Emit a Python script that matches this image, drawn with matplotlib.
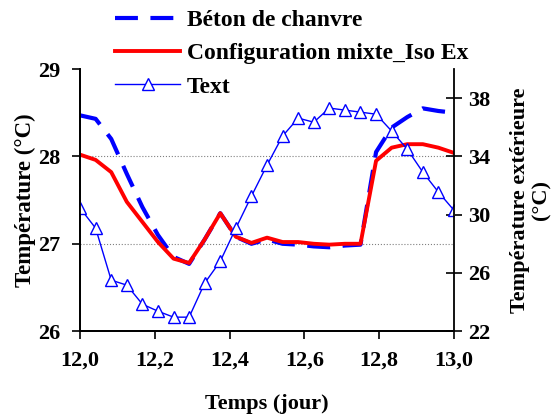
import numpy as np
import matplotlib.pyplot as plt

plt.rcParams['font.family'] = ['Liberation Serif', 'DejaVu Serif']
plt.rcParams['font.weight'] = 'bold'

# heures depuis le debut du jour 12
heures = list(range(25))

# temperature interieure - beton de chanvre (axe gauche)
beton = [28.47, 28.43, 28.20, 27.80, 27.42, 27.10, 26.85, 26.77, 27.05, 27.35,
         27.08, 27.00, 27.05, 27.00, 26.99, 26.97, 26.96, 26.98, 26.99, 28.05,
         28.33, 28.45, 28.55, 28.52, 28.50]

# temperature interieure - configuration mixte (axe gauche)
mixte = [28.02, 27.96, 27.82, 27.48, 27.25, 27.02, 26.83, 26.78, 27.05, 27.35,
         27.08, 27.01, 27.07, 27.02, 27.02, 27.00, 26.99, 27.00, 27.00, 27.95,
         28.10, 28.14, 28.14, 28.10, 28.04]

# temperature exterieure (axe droit)
text = [30.45, 29.07, 25.50, 25.16, 23.85, 23.37, 22.96, 22.96, 25.30, 26.80,
        29.07, 31.27, 33.40, 35.40, 36.63, 36.35, 37.32, 37.18, 37.04, 36.90,
        35.74, 34.50, 32.92, 31.55, 30.30]

xticks = [12.0, 12.2, 12.4, 12.6, 12.8, 13.0]
xticklabels = ['12,0', '12,2', '12,4', '12,6', '12,8', '13,0']
yticks_g = [26, 27, 28, 29]
yticks_d = [22, 26, 30, 34, 38]
lignes_grille = [27, 28]

temps = 12 + np.array(heures) / 24.0

fig = plt.figure(figsize=(5.56, 4.16), dpi=100)
ax = fig.add_axes([0.144, 0.204, 0.6725, 0.630])
ax2 = ax.twinx()

for g in lignes_grille:
    ax.axhline(g, color='gray', linestyle=':', lw=0.8, zorder=0)

l1, = ax.plot(temps, beton, color='#0000ff', lw=3, dashes=(5.5, 3), label='Béton de chanvre')
l2, = ax.plot(temps, mixte, color='#ff0000', lw=2.8, label='Configuration mixte_Iso Ex')
l3, = ax2.plot(temps, text, color='#0000ff', lw=1, marker='^', markersize=8,
               markerfacecolor='white', markeredgecolor='#0000ff', markeredgewidth=1,
               label='Text')

ax.set_xlim(12, 13)
ax.set_ylim(26, 29)
ax2.set_ylim(22, 40)
ax.set_xticks(xticks)
ax.set_xticklabels(xticklabels)
ax.set_yticks(yticks_g)
ax2.set_yticks(yticks_d)

ax.tick_params(axis='both', direction='out', length=6, width=1.2, labelsize=16)
ax.tick_params(axis='x', pad=8)
ax.tick_params(axis='y', pad=8)
ax2.tick_params(axis='y', direction='inout', length=12, width=1.2, labelsize=16, pad=4)

for a in (ax, ax2):
    a.spines['top'].set_visible(False)
    for s in ('left', 'right', 'bottom'):
        a.spines[s].set_linewidth(1.3)
ax.spines['right'].set_visible(False)

ax.set_xlabel('Temps (jour)', fontsize=16, fontweight='bold', labelpad=17)
ax.set_ylabel('Température (°C)', fontsize=16.5, fontweight='bold', labelpad=2)
ax2.set_ylabel('Température extérieure\n(°C)', fontsize=16, fontweight='bold',
               labelpad=14, linespacing=1.15)

fig.legend(handles=[l1, l2, l3], loc='upper left', bbox_to_anchor=(0.19, 1.0),
           frameon=False, fontsize=17, handlelength=2.75, handletextpad=0.3,
           labelspacing=0.5, borderaxespad=0)

fig.savefig('out.png', dpi=100)
